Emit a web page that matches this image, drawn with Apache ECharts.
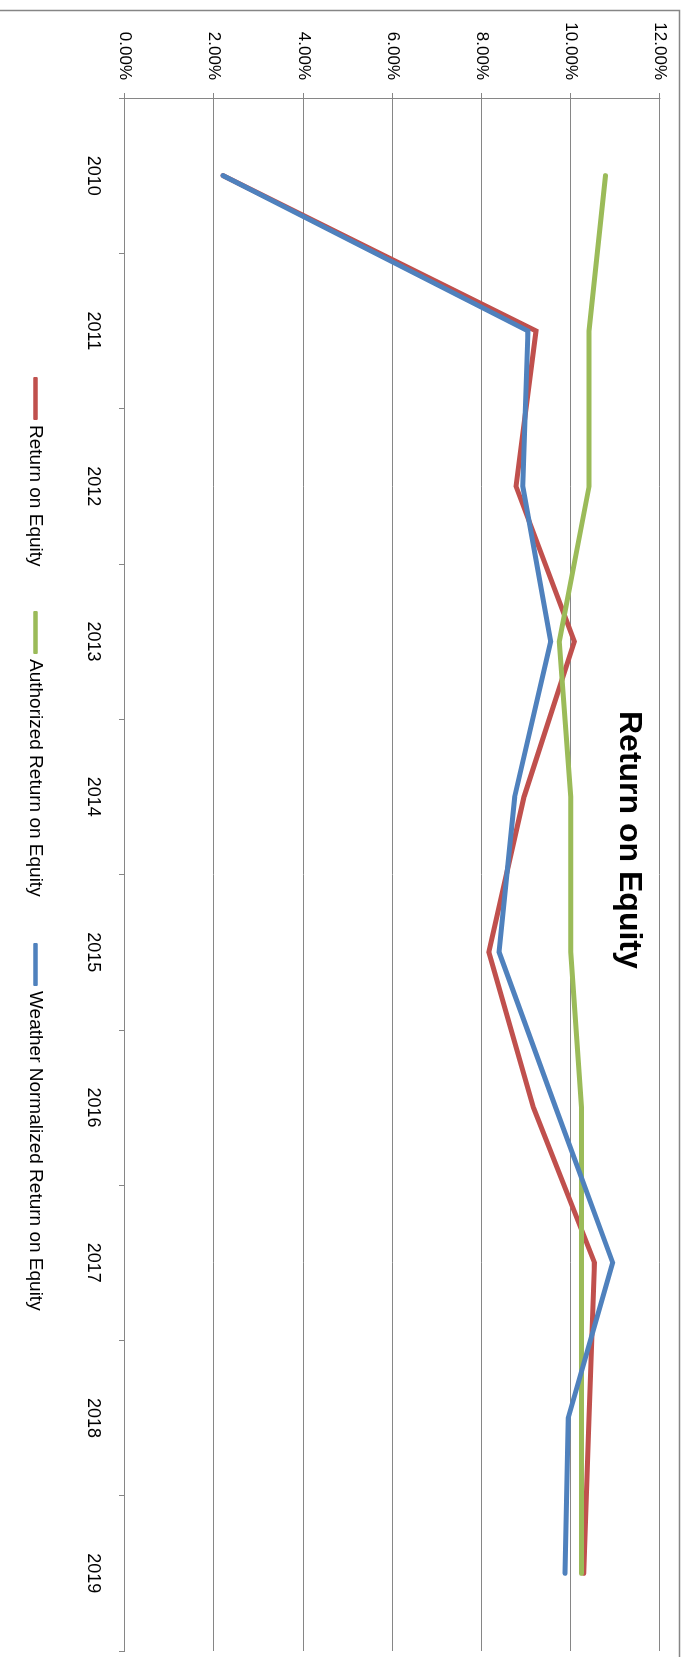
<!DOCTYPE html>
<html>
<head>
<meta charset="utf-8">
<script src="https://cdn.jsdelivr.net/npm/echarts@6/dist/echarts.min.js"></script>
<style>
  html, body { margin: 0; padding: 0; overflow: hidden; background: #fff; }
  /* chart is laid out landscape and turned a quarter clockwise, like the reference */
  #chart {
    position: absolute; left: 0; top: 0;
    width: 1657px; height: 686px;
    transform-origin: 0 0;
    transform: translateX(686px) rotate(90deg);
  }
</style>
</head>
<body>
<div id="chart"></div>
<script>
let years = ['2010', '2011', '2012', '2013', '2014', '2015', '2016', '2017', '2018', '2019']
// values in percent
let returnOnEquity = [2.20, 9.22, 8.77, 10.08, 8.95, 8.16, 9.16, 10.53, 10.41, 10.29]
let authorizedReturn = [10.78, 10.41, 10.41, 9.74, 10.00, 10.00, 10.24, 10.24, 10.24, 10.24]
let weatherNormalized = [2.20, 9.04, 8.92, 9.55, 8.74, 8.39, 9.66, 10.94, 9.94, 9.87]
let seriesNames = ['Return on Equity', 'Authorized Return on Equity', 'Weather Normalized Return on Equity']
let colors = ['#C0504D', '#9BBB59', '#4F81BD']
let valueMin = 0
let valueMax = 12
let valueStep = 2

let font = '"Liberation Sans", Arial, sans-serif'
let gray = '#868686'

let myChart = echarts.init(document.getElementById('chart'))

function legendFor(name, left) {
  return {
    data: [name],
    left: left,
    top: 636,
    icon: 'roundRect',
    itemWidth: 43,
    itemHeight: 4.5,
    textStyle: { fontFamily: font, fontSize: 19, color: '#000' }
  }
}

function lineSeries(name, data, color) {
  return {
    name: name,
    type: 'line',
    data: data,
    symbol: 'none',
    color: color,
    lineStyle: { width: 5, color: color, cap: 'round', join: 'miter' },
    animation: false
  }
}

let option = {
  animation: false,
  title: {
    text: 'Return on Equity',
    left: 711,
    top: 41,
    padding: 0,
    textStyle: { fontFamily: font, fontSize: 32, fontWeight: 'bold', color: '#000' }
  },
  legend: [
    legendFor(seriesNames[0], 372),
    legendFor(seriesNames[1], 606),
    legendFor(seriesNames[2], 938)
  ],
  grid: { left: 98, right: 6, top: 26, bottom: 125, containLabel: false, outerBoundsMode: 'none' },
  xAxis: {
    type: 'category',
    data: years,
    boundaryGap: true,
    axisLine: { show: true, lineStyle: { color: gray, width: 1 } },
    axisTick: { show: true, length: 6, lineStyle: { color: gray } },
    axisLabel: { margin: 23, fontFamily: font, fontSize: 18, color: '#000' }
  },
  yAxis: {
    type: 'value',
    min: valueMin,
    max: valueMax,
    interval: valueStep,
    axisLine: { show: true, lineStyle: { color: gray, width: 1 } },
    axisTick: { show: true, length: 5, lineStyle: { color: gray } },
    axisLabel: {
      margin: 18,
      fontFamily: font,
      fontSize: 17,
      color: '#000',
      formatter: function (v) { return v.toFixed(2) + '%' }
    },
    splitLine: { show: true, lineStyle: { color: gray, width: 1 } }
  },
  graphic: [{
    type: 'rect',
    silent: true,
    shape: { x: 10.5, y: 6.5, width: 1700, height: 700 },
    style: { fill: 'none', stroke: gray, lineWidth: 1.5 }
  }],
  series: [
    lineSeries(seriesNames[0], returnOnEquity, colors[0]),
    lineSeries(seriesNames[1], authorizedReturn, colors[1]),
    lineSeries(seriesNames[2], weatherNormalized, colors[2])
  ]
}

myChart.setOption(option)
</script>
</body>
</html>
